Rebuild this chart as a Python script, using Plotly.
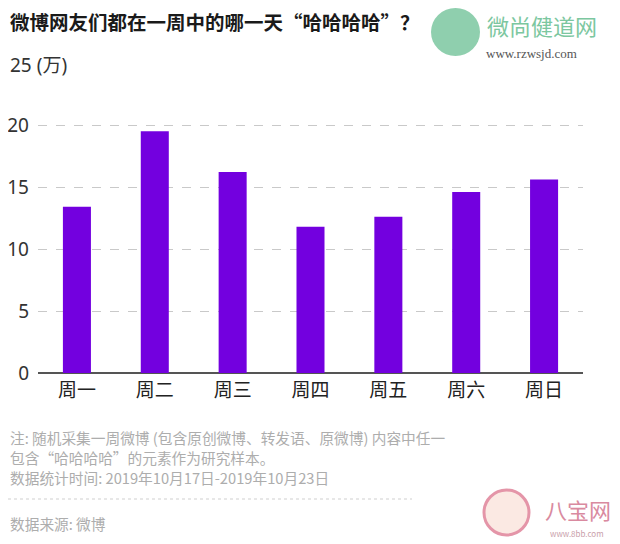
import plotly.graph_objects as go

# ── data ─────────────────────────────────────────────────────────────────────
days = ['周一', '周二', '周三', '周四', '周五', '周六', '周日']
haha_counts = [13.4, 19.5, 16.2, 11.8, 12.6, 14.6, 15.6]   # 万
y_ticks = [0, 5, 10, 15, 20, 25]
y_ticktext = ['0', '5', '10', '15', '20', '']

title = '<b>微博网友们都在一周中的哪一天“哈哈哈哈”？</b>'
notes = [
    '注: 随机采集一周微博 (包含原创微博、转发语、原微博) 内容中任一',
    '包含“哈哈哈哈”的元素作为研究样本。',
    '数据统计时间: 2019年10月17日-2019年10月23日',
]
source = '数据来源: 微博'

PURPLE = '#7300DF'
FONT = 'Noto Sans CJK SC, Noto Sans, Arial'

# page body has an 8px margin, so work in screen pixels and shift back
OFF = 8
W, H = 620, 544
L, R, T, B = 38 - OFF, 37 + OFF, 63 - OFF, 171 + OFF
PW, PH = W - L - R, H - T - B


def px(x):
    return (x - OFF - L) / PW


def py(y):
    return (H - B - (y - OFF)) / PH


fig = go.Figure(go.Bar(
    x=days, y=haha_counts,
    marker=dict(color=PURPLE, line_width=0),
    hovertemplate='%{x}: %{y}万<extra></extra>',
))

fig.update_layout(
    width=W, height=H,
    margin=dict(l=L, r=R, t=T, b=B, pad=0, autoexpand=False),
    plot_bgcolor='white', paper_bgcolor='white',
    font=dict(family=FONT, color='#333'),
    bargap=0.64,
    showlegend=False,
    xaxis=dict(
        showgrid=False, showline=False, ticks='', automargin=False,
        tickfont=dict(size=19, color='#222'),
        ticklabelstandoff=4,
    ),
    yaxis=dict(
        range=[0, 25], tickvals=y_ticks, ticktext=y_ticktext, automargin=False,
        showgrid=True, gridcolor='#c9c9c9', griddash='dash', gridwidth=1,
        zeroline=True, zerolinecolor='#555', zerolinewidth=1.5,
        showline=False, ticks='',
        tickfont=dict(size=19, color='#333', family='Noto Sans, Arial'),
        ticklabelstandoff=8,
    ),
)


def note(text, x, y, size, color, family=FONT, **kw):
    return dict(text=text, x=px(x), y=py(y), xref='paper', yref='paper',
                xanchor='left', yanchor='middle', showarrow=False,
                font=dict(size=size, color=color, family=family), **kw)


ann = [note(title, 8, 22, 19.5, '#1a1a1a')]
ann.append(note('25 (万)', 8, 65, 19, '#333', 'Noto Sans, ' + FONT, bgcolor='white'))
for i, line in enumerate(notes):
    ann.append(note(line, 8, 437 + 20 * i, 14.7, '#adadad'))
ann.append(note(source, 8, 523, 14.7, '#adadad'))
# watermarks
ann.append(note('微尚健道网', 485, 25, 22, '#7cc7a0'))
ann.append(note('www.rzwsjd.com', 484, 53, 13, '#555', 'Liberation Serif, serif'))
ann.append(note('八宝网', 543, 509, 22, '#d98aa0'))
ann.append(note('www.8bb.com', 548, 533, 8, '#c9a0aa'))
fig.update_layout(annotations=ann)

shapes = [
    dict(type='line', xref='paper', yref='paper',
         x0=px(8), x1=px(412), y0=py(499), y1=py(499),
         line=dict(color='#cfcfcf', width=1, dash='dot')),
    dict(type='circle', xref='paper', yref='paper',
         x0=px(431), x1=px(480), y0=py(8), y1=py(56),
         fillcolor='#8fcfae', line_width=0, layer='below'),
    dict(type='circle', xref='paper', yref='paper',
         x0=px(484), x1=px(529), y0=py(490), y1=py(535),
         fillcolor='#fbe9e3', line=dict(color='#e495a8', width=3)),
]
fig.update_layout(shapes=shapes)

fig.write_html('out.html')
